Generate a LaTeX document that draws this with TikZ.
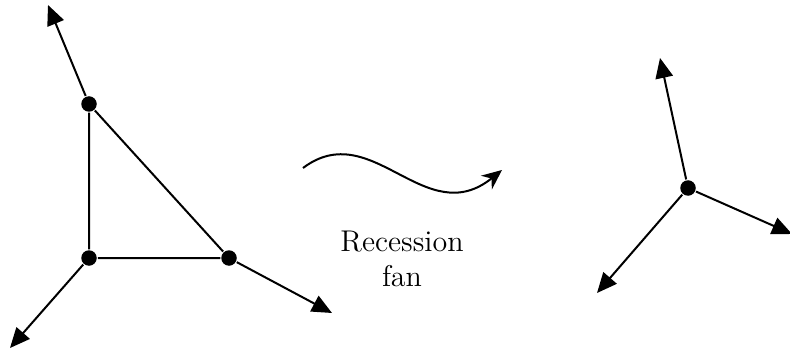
\documentclass[tikz,border=0pt]{standalone}
\usetikzlibrary{arrows.meta}
\begin{document}
\begin{tikzpicture}[x=0.4pt,y=-0.4pt,line width=0.8pt,
  every node/.style={font=\fontsize{12}{14}\selectfont},
  vert/.style={circle,fill=black,inner sep=0pt,minimum size=6.2pt},
  ray/.style={-{Triangle[length=8pt,width=7pt]}}]
\useasboundingbox (0,0) rectangle (790,352);
% polytope with its normal rays
\node[vert] (top) at (89,104) {};
\node[vert] (bl) at (89,258) {};
\node[vert] (br) at (229,258) {};
\coordinate (topend) at (48,5);
\coordinate (blend) at (10,348);
\coordinate (brend) at (332,313);
\draw (top) -- (bl) -- (br) -- (top);
\draw[ray] (top) -- (topend);
\draw[ray] (bl) -- (blend);
\draw[ray] (br) -- (brend);
% wavy map
\coordinate (wstart) at (303,168);
\coordinate (wend) at (502,170);
\draw[-{Stealth[length=8pt,width=7pt]}] (wstart) .. controls (372,116) and (425,232) .. (wend);
\node[align=center] (lbl) at (402,259) {Recession\\fan};
% the fan
\node[vert] (c) at (688,188) {};
\coordinate (up) at (660,58);
\coordinate (rt) at (792,234);
\coordinate (lo) at (597,293);
\draw[ray] (c) -- (up);
\draw[ray] (c) -- (rt);
\draw[ray] (c) -- (lo);
\end{tikzpicture}
\end{document}
